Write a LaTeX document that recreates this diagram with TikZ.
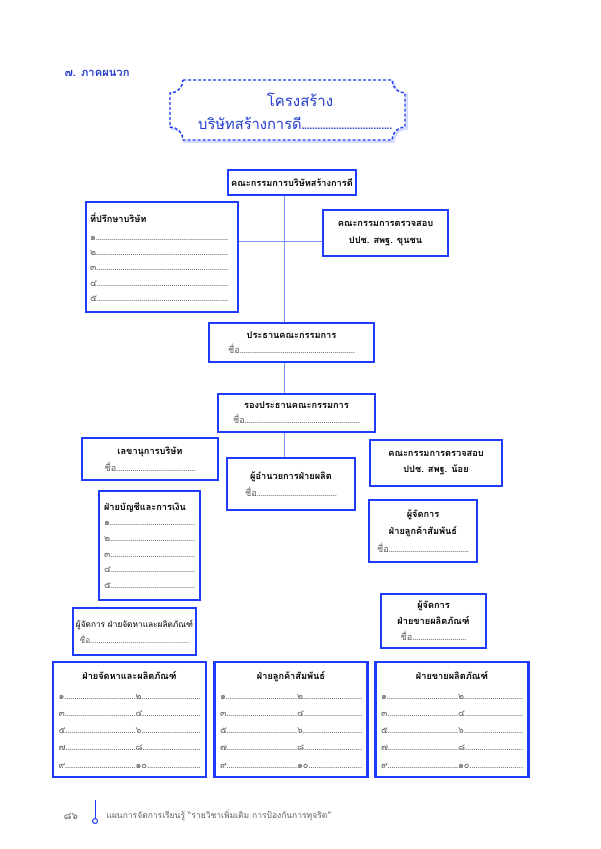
\documentclass[tikz,border=0pt]{standalone}
\usepackage{fontspec}
\setmainfont[Script=Thai]{Loma}
\usepackage{tikz}
\definecolor{boxblue}{RGB}{30,60,250}
\definecolor{linkblue}{RGB}{125,145,240}
\definecolor{headblue}{RGB}{35,60,205}
\definecolor{rowgray}{RGB}{95,95,95}
\newcommand{\dotrow}[2]{\leavevmode\hbox to #1{#2\xleaders\hbox to 2pt{\hss.\hss}\hfill}}
\newcommand{\gr}[1]{{\color{rowgray}#1}}

\begin{document}
\begin{tikzpicture}[x=1pt, y=-1pt,
  thinbox/.style={draw=boxblue, line width=1.3pt, fill=white, inner sep=2pt},
  midbox/.style={draw=boxblue, line width=1.9pt, fill=white, inner sep=2pt},
  thickbox/.style={draw=boxblue, line width=2.8pt, fill=white, inner sep=2pt},
  link/.style={draw=linkblue, line width=1pt},
  boxtext/.style={font=\fontsize{9.2}{16}\selectfont}]
\useasboundingbox (0,0) rectangle (600,849);

\node[anchor=west, text=headblue, font=\bfseries\fontsize{11.2}{13}\selectfont] (part) at (61,73) {๗. ภาคผนวก};

\draw[boxblue!18, line width=2.5pt, shift={(1.5,1.5)}] (183,80) -- (392,80) .. controls (392,87.2) and (397.8,93) .. (405,93) -- (405,127) .. controls (397.8,127) and (392,132.8) .. (392,140) -- (183,140) .. controls (183,132.8) and (177.2,127) .. (170,127) -- (170,93) .. controls (177.2,93) and (183,87.2) .. cycle;
\draw[boxblue, line width=1.4pt, dash pattern=on 3pt off 2pt, fill=white] (183,80) -- (392,80) .. controls (392,87.2) and (397.8,93) .. (405,93) -- (405,127) .. controls (397.8,127) and (392,132.8) .. (392,140) -- (183,140) .. controls (183,132.8) and (177.2,127) .. (170,127) -- (170,93) .. controls (177.2,93) and (183,87.2) .. cycle;
\node[text=headblue, font=\fontsize{15}{17}\selectfont] (heading) at (300,100) {โครงสร้าง};
\node[anchor=west, inner sep=0pt, text=headblue, font=\fontsize{14.7}{17}\selectfont] (company) at (198,123) {\hbox to 194pt{บริษัทสร้างการดี\xleaders\hbox to 2.6pt{\hss.\hss}\hfill}};

\coordinate (spine) at (284,0);
\coordinate (cross) at (284,241);

\node[thinbox, boxtext, minimum width=128, minimum height=25] (board) at (292,182.5) {\textbf{คณะกรรมการบริษัทสร้างการดี}};
\node[midbox, boxtext, minimum width=152, minimum height=110, text width=144, inner xsep=4pt, align=left, font=\fontsize{9.2}{15.2}\selectfont] (advisor) at (162,257) {\textbf{ที่ปรึกษาบริษัท}\\[3pt]\gr{\dotrow{138pt}{๑}}\\\gr{\dotrow{138pt}{๒}}\\\gr{\dotrow{138pt}{๓}}\\\gr{\dotrow{138pt}{๔}}\\\gr{\dotrow{138pt}{๕}}};
\node[midbox, boxtext, minimum width=125, minimum height=46, align=center, font=\fontsize{9.2}{17}\selectfont] (audit1) at (385.5,233) {\textbf{คณะกรรมการตรวจสอบ}\\\textbf{ปปช. สพฐ. ขุนชน}};

\node[thickbox, boxtext, minimum width=165, minimum height=39, align=center, font=\fontsize{9.2}{15}\selectfont] (chair) at (291.5,342.5) {\textbf{ประธานคณะกรรมการ}\\\gr{ชื่อ\dotrow{115pt}{}}};
\node[thickbox, boxtext, minimum width=157, minimum height=38, align=center, font=\fontsize{9.2}{15}\selectfont] (vice) at (296.5,413) {\textbf{รองประธานคณะกรรมการ}\\\gr{ชื่อ\dotrow{115pt}{}}};

\node[thickbox, boxtext, minimum width=136, minimum height=42, align=center, font=\fontsize{9.2}{17}\selectfont] (secretary) at (150,459) {\textbf{เลขานุการบริษัท}\\\gr{ชื่อ\dotrow{79pt}{}}};
\node[thickbox, boxtext, minimum width=128, minimum height=52, align=center, font=\fontsize{9.2}{17}\selectfont] (director) at (291,484) {\textbf{ผู้อำนวยการฝ่ายผลิต}\\\gr{ชื่อ\dotrow{80pt}{}}};
\node[thickbox, boxtext, minimum width=132, minimum height=46, align=center] (audit2) at (436,463) {\textbf{คณะกรรมการตรวจสอบ}\\\textbf{ปปช. สพฐ. น้อย}};

\node[thickbox, boxtext, minimum width=101, minimum height=109, text width=91, inner xsep=5pt, align=left, font=\fontsize{9.2}{15.6}\selectfont] (finance) at (149.5,545.5) {\textbf{ฝ่ายบัญชีและการเงิน}\\\gr{\dotrow{91pt}{๑}}\\\gr{\dotrow{91pt}{๒}}\\\gr{\dotrow{91pt}{๓}}\\\gr{\dotrow{91pt}{๔}}\\\gr{\dotrow{91pt}{๕}}};
\node[thickbox, boxtext, minimum width=108, minimum height=62, align=center, font=\fontsize{9.2}{17.5}\selectfont] (crmhead) at (423,531) {\textbf{ผู้จัดการ}\\\textbf{ฝ่ายลูกค้าสัมพันธ์}\\\gr{ชื่อ\dotrow{80pt}{}}};
\node[thickbox, boxtext, minimum width=105, minimum height=54, align=center, font=\fontsize{9.2}{16}\selectfont] (saleshead) at (433.5,621) {\textbf{ผู้จัดการ}\\\textbf{ฝ่ายขายผลิตภัณฑ์}\\\gr{ชื่อ\dotrow{54pt}{}}};
\node[thickbox, boxtext, minimum width=123, minimum height=47, align=center, font=\fontsize{8.3}{16}\selectfont] (supplyhead) at (134.5,631.5) {ผู้จัดการ ฝ่ายจัดหาและผลิตภัณฑ์\\\gr{ชื่อ\dotrow{99pt}{}}};

\foreach \name/\x/\title in {supply/129.5/ฝ่ายจัดหาและผลิตภัณฑ์, crm/291/ฝ่ายลูกค้าสัมพันธ์, sales/452/ฝ่ายขายผลิตภัณฑ์}
  \node[thickbox, boxtext, minimum width=153, minimum height=115, align=center, font=\fontsize{9.2}{17.2}\selectfont] (\name) at (\x,719.5) {\textbf{\title}\\[3pt]\gr{\dotrow{77pt}{๑}\dotrow{65pt}{๒}}\\\gr{\dotrow{77pt}{๓}\dotrow{65pt}{๔}}\\\gr{\dotrow{77pt}{๕}\dotrow{65pt}{๖}}\\\gr{\dotrow{77pt}{๗}\dotrow{65pt}{๘}}\\\gr{\dotrow{77pt}{๙}\dotrow{65pt}{๑๐}}};

\draw[link] (board.south -| spine) -- (chair.north -| spine);
\draw[link] (advisor.east |- cross) -- (audit1.west |- cross);
\draw[link] (chair.south -| spine) -- (vice.north -| spine);
\draw[link] (vice.south -| spine) -- (director.north -| spine);

\node[text=rowgray, font=\fontsize{10}{12}\selectfont] (pagenum) at (71,816) {๘๖};
\node[circle, draw=boxblue, line width=1pt, fill=white, inner sep=0pt, minimum size=5pt] (pin) at (95,821) {};
\coordinate (pintop) at (95,800);
\draw[boxblue, line width=1pt] (pintop) -- (pin.north);
\node[anchor=west, text=rowgray, font=\fontsize{8.5}{10}\selectfont] (footer) at (103,815) {แผนการจัดการเรียนรู้ “รายวิชาเพิ่มเติม การป้องกันการทุจริต”};
\end{tikzpicture}
\end{document}
